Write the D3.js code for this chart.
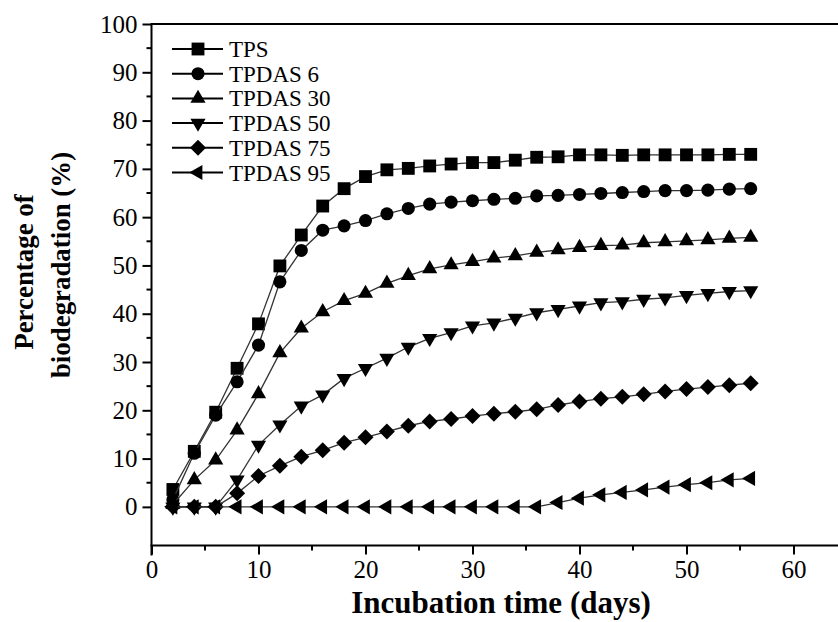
<!DOCTYPE html>
<html><head><meta charset="utf-8">
<script src="https://cdn.jsdelivr.net/npm/d3@7"></script>
<style>body{margin:0;background:#fff}svg{display:block}</style>
</head><body>
<svg id="c" width="838" height="622"></svg>
<script>
const days = [2,4,6,8,10,12,14,16,18,20,22,24,26,28,30,32,34,36,38,40,42,44,46,48,50,52,54,56];
const seriesNames = ["TPS","TPDAS 6","TPDAS 30","TPDAS 50","TPDAS 75","TPDAS 95"];
const tps      = [3.6,11.5,19.6,28.7,37.9,49.9,56.3,62.3,65.9,68.4,69.8,70.1,70.6,71.0,71.3,71.3,71.8,72.4,72.5,72.9,72.9,72.8,72.9,72.9,72.9,72.9,73.0,73.0];
const tpdas6   = [1.5,11.1,19.0,25.9,33.5,46.6,53.1,57.3,58.2,59.3,60.7,61.8,62.7,63.1,63.4,63.7,63.9,64.4,64.5,64.7,64.9,65.1,65.3,65.5,65.5,65.6,65.8,65.9];
const tpdas30  = [0.5,5.6,9.7,15.9,23.4,31.9,37.0,40.4,42.7,44.2,46.3,47.9,49.3,50.1,50.8,51.5,52.0,52.7,53.2,53.7,54.1,54.2,54.7,54.9,55.1,55.3,55.6,55.8];
const tpdas50  = [0,0,0,5.6,12.8,17.0,20.9,23.2,26.6,28.7,30.8,33.1,34.9,36.1,37.5,38.1,39.1,40.2,40.9,41.6,42.3,42.5,43.0,43.3,43.8,44.2,44.6,44.8];
const tpdas75  = [0,0,0,2.8,6.4,8.5,10.4,11.7,13.3,14.4,15.6,16.8,17.7,18.2,18.8,19.3,19.7,20.2,21.1,21.8,22.4,22.8,23.3,23.9,24.4,24.8,25.2,25.6];
const tpdas95  = [0,0,0,0,0,0,0,0,0,0,0,0,0,0,0,0,0,0,0.9,1.8,2.5,3.0,3.5,4.1,4.6,5.0,5.6,5.9];
const xTicks = [0,10,20,30,40,50,60];
const yTicks = [0,10,20,30,40,50,60,70,80,90,100];
const xLabel = "Incubation time (days)";
const yLabel = ["Percentage of","biodegradation (%)"];

const allSeries = [tps,tpdas6,tpdas30,tpdas50,tpdas75,tpdas95];
const symbols = ["square","circle","up","down","diamond","left"];

const svg = d3.select("#c");
const L = 151.5, T = 24, B = 545.5;
const x = d3.scaleLinear().domain([0,65]).range([L, L + 65*10.7]);
const y = d3.scaleLinear().domain([-8,100]).range([B, T]);
const font = "'Liberation Serif','Times New Roman',serif";

function marker(g, i, cx, cy) {
  const s = symbols[i];
  let d, rot = 0;
  if (s === "square") d = d3.symbol(d3.symbolSquare, 165)();
  else if (s === "circle") d = d3.symbol(d3.symbolCircle, 135)();
  else if (s === "up") d = d3.symbol(d3.symbolTriangle, 100)();
  else if (s === "down") { d = d3.symbol(d3.symbolTriangle, 100)(); rot = 180; }
  else if (s === "left") { d = d3.symbol(d3.symbolTriangle, 100)(); rot = -90; }
  else if (s === "diamond") d = "M0,-8L8,0L0,8L-8,0Z";
  g.append("path").attr("d", d).attr("transform", `translate(${cx},${cy}) rotate(${rot})`).attr("fill", "#000");
}

// series
const line = d3.line().x((d,i)=>x(days[i])).y(d=>y(d));
allSeries.forEach((vals, si) => {
  const g = svg.append("g");
  g.append("path").datum(vals).attr("d", line).attr("fill","none").attr("stroke","#333").attr("stroke-width",1.3);
  vals.forEach((v, i) => marker(g, si, x(days[i]), y(v)));
});

// axes
const yAxis = d3.axisLeft(y).tickValues(yTicks).tickSize(9).tickPadding(5).tickFormat(d3.format("d"));
const gy = svg.append("g").attr("transform", `translate(${L},0)`).call(yAxis);
const xAxis = d3.axisBottom(x).tickValues(xTicks).tickSize(9).tickPadding(6).tickFormat(d3.format("d"));
const gx = svg.append("g").attr("transform", `translate(0,${B})`).call(xAxis);
[gx, gy].forEach(g => {
  g.select(".domain").remove();
  g.selectAll(".tick line").attr("stroke","#000").attr("stroke-width",2);
  g.selectAll("text").attr("font-family", font).attr("font-size", 25).attr("fill","#000");
});
// minor ticks
const yMinor = d3.range(5, 100, 10);
svg.append("g").selectAll("line").data(yMinor).join("line")
  .attr("x1", L-5).attr("x2", L).attr("y1", d=>y(d)).attr("y2", d=>y(d)).attr("stroke","#000").attr("stroke-width",2);
const xMinor = d3.range(5, 65, 10);
svg.append("g").selectAll("line").data(xMinor).join("line")
  .attr("y1", B).attr("y2", B+5).attr("x1", d=>x(d)).attr("x2", d=>x(d)).attr("stroke","#000").attr("stroke-width",2);
// frame
svg.append("path").attr("d", `M${L},${B+10}V${T}H${838}`).attr("fill","none").attr("stroke","#000").attr("stroke-width",2);
svg.append("path").attr("d", `M${L-1},${B}H${838}`).attr("fill","none").attr("stroke","#000").attr("stroke-width",2);

// titles
svg.append("text").attr("x", 501).attr("y", 613).attr("text-anchor","middle")
  .attr("font-family", font).attr("font-weight","bold").attr("font-size", 31).text(xLabel);
svg.append("text").attr("transform", `translate(33,272) rotate(-90) scale(0.96,1)`)
  .attr("text-anchor","middle").attr("font-family", font).attr("font-weight","bold").attr("font-size", 28).text(yLabel[0]);
svg.append("text").attr("transform", `translate(70,265) rotate(-90) scale(0.96,1)`)
  .attr("text-anchor","middle").attr("font-family", font).attr("font-weight","bold").attr("font-size", 28).text(yLabel[1]);

// legend
const lg = svg.append("g");
seriesNames.forEach((name, i) => {
  const ly = 49 + i*24.7;
  lg.append("line").attr("x1",172).attr("x2",223).attr("y1",ly).attr("y2",ly).attr("stroke","#000").attr("stroke-width",2);
  marker(lg, i, 198, ly);
  lg.append("text").attr("x",229).attr("y",ly+8).attr("font-family",font).attr("font-size",23).attr("fill","#000").text(name);
});
</script>
</body></html>
